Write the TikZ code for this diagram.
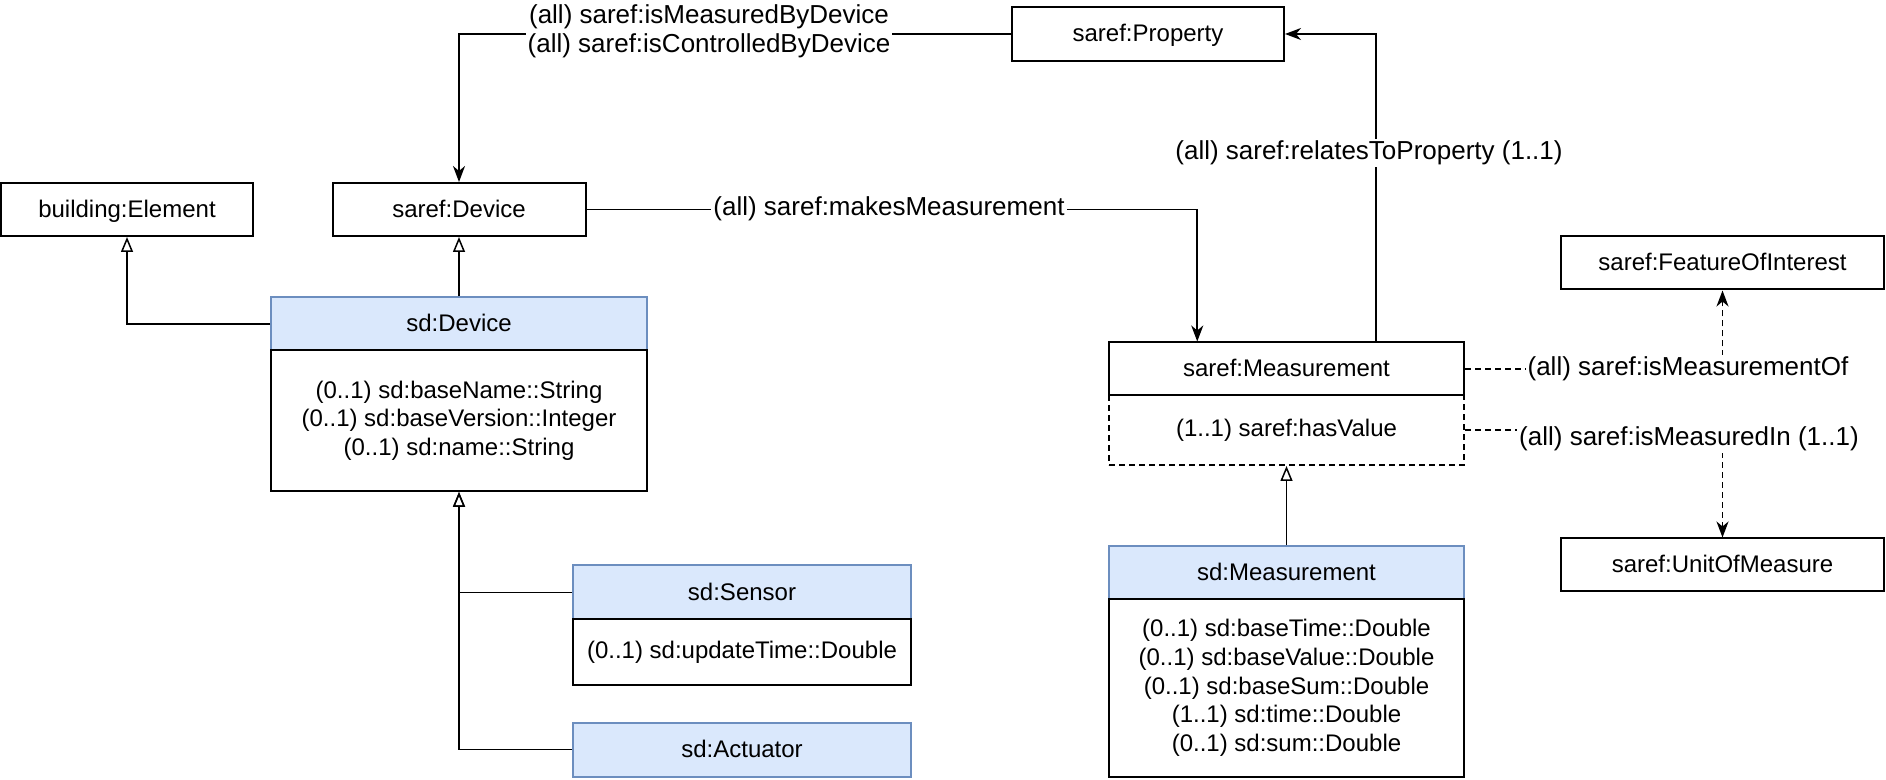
\documentclass[tikz,border=0pt]{standalone}
\usepackage{fontspec}
\setmainfont{Liberation Sans}
\usetikzlibrary{arrows.meta,calc}

\definecolor{hdrfill}{HTML}{DAE8FC}
\definecolor{hdrline}{HTML}{6C8EBF}

\tikzset{
  boxfont/.style={font=\fontsize{12}{14.35}\selectfont},
  cls/.style={boxfont, draw=black, line width=1pt, fill=white, minimum height=26.5pt, inner sep=0pt, text height=9.5pt, text depth=1.5pt},
  hdr/.style={boxfont, draw=hdrline, line width=1pt, fill=hdrfill, minimum height=26.5pt, inner sep=0pt, text height=9.5pt, text depth=1.5pt},
  attr/.style={boxfont, draw=black, line width=1pt, fill=white, align=center, inner sep=0pt},
  lbl/.style={fill=white, inner sep=1pt, align=center},
  assoc/.style={line width=0.9pt, -{Stealth[length=8pt,width=6pt,inset=2.5pt]}},
  gen/.style={line width=0.75pt, -{Triangle[open,length=7.5pt,width=6pt]}},
  dashy/.style={dash pattern=on 3pt off 2pt},
}

\begin{document}
\begin{tikzpicture}[x=0.5pt,y=-0.5pt, font=\fontsize{13}{14.5}\selectfont]
  \useasboundingbox (0,0) rectangle (1886,780);
  % classes
  \node[cls, minimum width=126pt] (bldg) at (127,209.5) {building:Element};
  \node[cls, minimum width=126.5pt] (sdev) at (459,209.5) {saref:Device};
  \node[cls, minimum width=136pt, minimum height=27pt] (prop) at (1148,34) {saref:Property};
  \node[cls, minimum width=161.5pt] (foi) at (1722.5,263) {saref:FeatureOfInterest};
  \node[cls, minimum width=161.5pt] (uom) at (1722.5,565) {saref:UnitOfMeasure};
  \node[attr, dashy, minimum width=177.5pt, minimum height=35pt] (hasv) at (1286.5,430) {(1..1) saref:hasValue};
  \node[cls, minimum width=177.5pt] (meas) at (1286.5,369) {saref:Measurement};
  % sd classes
  \node[hdr, minimum width=188pt] (sdDh) at (459,324) {sd:Device};
  \node[attr, minimum width=188pt, minimum height=70.5pt] (sdDb) at (459,420.5)
    {(0..1) sd:baseName::String\\(0..1) sd:baseVersion::Integer\\(0..1) sd:name::String};
  \node[hdr, minimum width=169pt, minimum height=27pt] (sensh) at (742,592.5) {sd:Sensor};
  \node[attr, minimum width=169pt, minimum height=32.5pt] (sensb) at (742,652) {(0..1) sd:updateTime::Double};
  \node[hdr, minimum width=169pt, minimum height=27pt] (act) at (742,749.5) {sd:Actuator};
  \node[hdr, minimum width=177.5pt] (sdMh) at (1286.5,573) {sd:Measurement};
  \node[attr, minimum width=177.5pt, minimum height=88.5pt] (sdMb) at (1286.5,688)
    {(0..1) sd:baseTime::Double\\(0..1) sd:baseValue::Double\\(0..1) sd:baseSum::Double\\(1..1) sd:time::Double\\(0..1) sd:sum::Double};

  % generalisations
  \draw[gen] (sdDh.north) -- (sdev.south);
  \draw[gen] (sdDh.west) -| (bldg.south);
  \draw[gen] (sensh.west) -| (sdDb.south);
  \draw[gen] (act.west) -| (sdDb.south);
  \draw[gen] (sdMh.north) -- (hasv.south);

  % associations
  \draw[assoc] (prop.west) -| (sdev.north);
  \draw[assoc] (sdev.east) -| ($(meas.north west)!0.25!(meas.north east)$);
  \draw[assoc] ($(meas.north west)!0.75!(meas.north east)$) |- (prop.east);
  \draw[assoc, dashy] (meas.east) -| (foi.south);
  \draw[assoc, dashy] (hasv.east) -| (uom.north);

  % labels
  \node[lbl] (lprop) at (709,31) {(all) saref:isMeasuredByDevice\\(all) saref:isControlledByDevice};
  \node[lbl] (lmake) at (889,209) {(all) saref:makesMeasurement};
  \node[lbl] (lrel) at (1369,153) {(all) saref:relatesToProperty (1..1)};
  \node[lbl] (lfoi) at (1688,369) {(all) saref:isMeasurementOf};
  \node[lbl] (luom) at (1689,439) {(all) saref:isMeasuredIn (1..1)};
\end{tikzpicture}
\end{document}
